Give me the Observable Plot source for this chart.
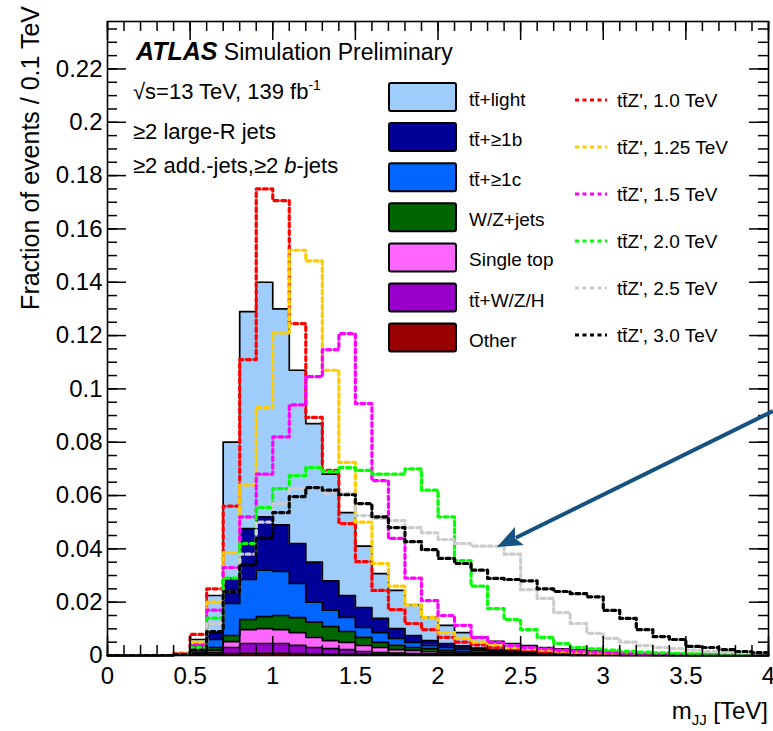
<!DOCTYPE html>
<html>
<head>
<meta charset="utf-8">
<script src="https://cdn.jsdelivr.net/npm/d3@7"></script>
<script src="https://cdn.jsdelivr.net/npm/@observablehq/plot@0.6"></script>
<style>
  html, body { margin: 0; padding: 0; background: #fff; }
  #chart { width: 773px; height: 731px; overflow: hidden; }
</style>
</head>
<body>
<div id="chart"></div>
<script>
// ---------------- DATA ----------------
// lower edges of the 0.1 TeV bins
const binLow = [0.0,0.1,0.2,0.3,0.4,0.5,0.6,0.7,0.8,0.9,1.0,1.1,1.2,1.3,1.4,1.5,1.6,1.7,1.8,1.9,
                2.0,2.1,2.2,2.3,2.4,2.5,2.6,2.7,2.8,2.9,3.0,3.1,3.2,3.3,3.4,3.5,3.6,3.7,3.8,3.9];
const xMax = 4.0;

// background stack, bottom -> top
const other     = [0,0,0,0,0.0001,0.0002,0.0004,0.0007,0.0008,0.0008,0.0008,0.0007,0.0006,0.0005,0.0005,0.0004,0.0003,0.0003,0.0002,0.0002,
                   0.0002,0.0001,0.0001,0.0001,0.0001,0.0001,0.0001,0.0001,0,0,0,0,0,0,0,0,0,0,0,0];
const ttV       = [0,0,0,0,0.0001,0.0003,0.0008,0.0023,0.0037,0.0037,0.0037,0.0031,0.0024,0.0021,0.0017,0.0011,0.0008,0.0006,0.0005,0.0004,
                   0.0003,0.0003,0.0002,0.0002,0.0001,0.0001,0.0001,0.0001,0.0001,0.0001,0.0001,0,0,0,0,0,0,0,0,0];
const singleTop = [0,0,0,0,0.0001,0.0005,0.0008,0.0022,0.0052,0.0056,0.0052,0.0048,0.0038,0.0030,0.0027,0.0023,0.0019,0.0013,0.0012,0.0008,
                   0.0006,0.0005,0.0004,0.0003,0.0003,0.0002,0.0002,0.0001,0.0001,0.0001,0.0001,0.0001,0.0001,0,0,0,0,0,0,0];
const wzJets    = [0,0,0,0,0.0001,0.0004,0.0010,0.0023,0.0038,0.0045,0.0053,0.0056,0.0057,0.0052,0.0041,0.0030,0.0019,0.0016,0.0011,0.0012,
                   0.0008,0.0006,0.0005,0.0004,0.0003,0.0003,0.0002,0.0002,0.0001,0.0001,0.0001,0.0001,0,0.0001,0,0,0,0,0,0];
const tt1c      = [0,0,0,0,0.0001,0.0008,0.0030,0.0120,0.0150,0.0174,0.0165,0.0128,0.0075,0.0062,0.0053,0.0037,0.0037,0.0026,0.0019,0.0012,
                   0.0011,0.0009,0.0007,0.0005,0.0004,0.0003,0.0003,0.0002,0.0002,0.0002,0.0001,0.0001,0.0001,0.0001,0.0001,0,0,0,0,0];
const tt1b      = [0,0,0,0,0.0001,0.0013,0.0026,0.0095,0.0191,0.0200,0.0175,0.0150,0.0150,0.0110,0.0082,0.0075,0.0053,0.0037,0.0026,0.0018,
                   0.0015,0.0012,0.0009,0.0007,0.0006,0.0005,0.0004,0.0003,0.0003,0.0002,0.0002,0.0001,0.0001,0.0001,0.0001,0.0001,0.0001,0,0,0];
const ttLight   = [0,0,0,0.0002,0.0001,0.0025,0.0139,0.0510,0.0814,0.0880,0.0810,0.0650,0.0520,0.0400,0.0311,0.0230,0.0168,0.0143,0.0115,0.0087,
                   0.0068,0.0050,0.0040,0.0031,0.0027,0.0022,0.0017,0.0015,0.0012,0.0010,0.0007,0.0006,0.0006,0.0005,0.0004,0.0004,0.0003,0.0004,0.0003,0.0003];

const layerNames  = ["Other", "tt\u0304+W/Z/H", "Single top", "W/Z+jets", "tt\u0304+\u22651c", "tt\u0304+\u22651b", "tt\u0304+light"];
const layerColors = ["#990000", "#9900cc", "#ff66ff", "#006600", "#0066ff", "#000099", "#9fcdfb"];

// Z' signals
const zp1000 = [0,0,0,0,0.0008,0.0079,0.0250,0.0560,0.1110,0.1750,0.1706,0.1245,0.0893,0.0694,0.0495,0.0352,0.0244,0.0172,0.0120,0.0097,
                0.0068,0.0050,0.0040,0.0030,0.0025,0.0020,0.0015,0.0012,0.0010,0.0008,0.0006,0.0005,0.0004,0.0004,0.0003,0.0003,0.0002,0.0002,0.0002,0.0002];
const zp1250 = [0,0,0,0,0.0005,0.0050,0.0200,0.0386,0.0640,0.0930,0.1210,0.1520,0.1480,0.1070,0.0724,0.0500,0.0345,0.0260,0.0190,0.0143,
                0.0086,0.0065,0.0050,0.0040,0.0030,0.0025,0.0020,0.0016,0.0013,0.0010,0.0008,0.0007,0.0006,0.0005,0.0004,0.0004,0.0003,0.0003,0.0002,0.0002];
const zp1500 = [0,0,0,0,0.0003,0.0040,0.0170,0.0330,0.0520,0.0680,0.0820,0.0940,0.1046,0.1147,0.1207,0.0945,0.0656,0.0439,0.0290,0.0206,
                0.0150,0.0113,0.0068,0.0049,0.0037,0.0030,0.0025,0.0020,0.0016,0.0013,0.0010,0.0008,0.0007,0.0006,0.0005,0.0004,0.0003,0.0003,0.0002,0.0002];
const zp2000 = [0,0,0,0,0.0003,0.0030,0.0140,0.0290,0.0420,0.0555,0.0626,0.0675,0.0705,0.0690,0.0705,0.0694,0.0680,0.0680,0.0700,0.0620,
                0.0520,0.0356,0.0260,0.0176,0.0135,0.0097,0.0068,0.0045,0.0030,0.0025,0.0020,0.0016,0.0013,0.0010,0.0008,0.0006,0.0005,0.0004,0.0003,0.0003];
const zp2500 = [0,0,0,0,0.0002,0.0020,0.0120,0.0240,0.0380,0.0500,0.0570,0.0626,0.0630,0.0610,0.0607,0.0525,0.0514,0.0506,0.0480,0.0460,
                0.0435,0.0420,0.0410,0.0410,0.0380,0.0247,0.0214,0.0161,0.0120,0.0083,0.0064,0.0050,0.0037,0.0030,0.0026,0.0020,0.0015,0.0012,0.0010,0.0008];
const zp3000 = [0,0,0,0,0.0003,0.0020,0.0090,0.0240,0.0340,0.0440,0.0536,0.0596,0.0630,0.0620,0.0603,0.0570,0.0520,0.0480,0.0427,0.0397,
                0.0364,0.0345,0.0320,0.0289,0.0285,0.0280,0.0250,0.0240,0.0232,0.0220,0.0169,0.0139,0.0097,0.0071,0.0060,0.0034,0.0030,0.0022,0.0015,0.0011];

const signalNames  = ["tt\u0304Z', 1.0 TeV", "tt\u0304Z', 1.25 TeV", "tt\u0304Z', 1.5 TeV", "tt\u0304Z', 2.0 TeV", "tt\u0304Z', 2.5 TeV", "tt\u0304Z', 3.0 TeV"];
const signalColors = ["#ff0000", "#ffcc00", "#ff00ff", "#00ff00", "#cccccc", "#000000"];

// axes
const xMajor = [0, 0.5, 1, 1.5, 2, 2.5, 3, 3.5, 4];
const xTickLabels = ["0", "0.5", "1", "1.5", "2", "2.5", "3", "3.5", "4"];
const yMajor = [0, 0.02, 0.04, 0.06, 0.08, 0.1, 0.12, 0.14, 0.16, 0.18, 0.2, 0.22];
const yTickLabels = ["0", "0.02", "0.04", "0.06", "0.08", "0.1", "0.12", "0.14", "0.16", "0.18", "0.2", "0.22"];
const xMinor = d3.range(0, 41).map(i => i / 10);
const yMinor = d3.range(0, 48).map(i => i * 0.005);
const yMax = 0.2378;

// annotation arrow (data coordinates: from, to)
const arrowPoints = [{x: 4.03, y: 0.0915}, {x: 2.36, y: 0.0405}];

// ---------------- BUILD ----------------
const W = 773, H = 731;
const mL = 107, mR = 5, mT = 21, mB = 76;
const innerW = W - mL - mR, innerH = H - mT - mB;
const font = "'Liberation Sans', Arial, Helvetica, sans-serif";

const layerValues = [other, ttV, singleTop, wzJets, tt1c, tt1b, ttLight];
const stackRows = [];
layerNames.forEach((name, k) => {
  const vals = layerValues[k];
  binLow.forEach((x, i) => stackRows.push({layer: name, x, v: vals[i]}));
  stackRows.push({layer: name, x: xMax, v: vals[vals.length - 1]});
});

const signalValues = [zp1000, zp1250, zp1500, zp2000, zp2500, zp3000];
const signalRows = signalNames.map((name, k) => {
  const vals = signalValues[k];
  const rows = binLow.map((x, i) => ({x, v: vals[i]}));
  rows.push({x: xMax, v: vals[vals.length - 1]});
  return rows;
});

const dash = "4,3.5";
const tickStyle = {stroke: "black", strokeWidth: 1.5};

const plot = Plot.plot({
  width: W, height: H,
  marginLeft: mL, marginRight: mR, marginTop: mT, marginBottom: mB,
  style: {fontFamily: font, fontSize: "24px", background: "white", color: "black"},
  x: {domain: [0, 4], label: null},
  y: {domain: [0, yMax], label: null},
  color: {domain: layerNames, range: layerColors},
  marks: [
    Plot.areaY(stackRows, {x: "x", y: "v", z: "layer", fill: "layer", order: layerNames, curve: "step-after"}),
    Plot.lineY(stackRows, Plot.stackY2({x: "x", y: "v", z: "layer", order: layerNames, curve: "step-after",
                                        stroke: "black", strokeWidth: 1.7})),
    ...signalRows.map((rows, k) => Plot.lineY(rows, {x: "x", y: "v", curve: "step-after",
                                     stroke: signalColors[k], strokeWidth: 3.2, strokeDasharray: dash, clip: true})),
    // ROOT style inward ticks on all sides
    Plot.ruleY(yMajor, {y: d => d, insetRight: innerW - 19, ...tickStyle}),
    Plot.ruleY(yMinor, {y: d => d, insetRight: innerW - 10, ...tickStyle}),
    Plot.ruleY(yMajor, {y: d => d, insetLeft: innerW - 19, ...tickStyle}),
    Plot.ruleY(yMinor, {y: d => d, insetLeft: innerW - 10, ...tickStyle}),
    Plot.ruleX(xMajor, {x: d => d, insetTop: innerH - 19, ...tickStyle}),
    Plot.ruleX(xMinor, {x: d => d, insetTop: innerH - 10, ...tickStyle}),
    Plot.ruleX(xMajor, {x: d => d, insetBottom: innerH - 19, ...tickStyle}),
    Plot.ruleX(xMinor, {x: d => d, insetBottom: innerH - 10, ...tickStyle}),
    Plot.frame({stroke: "black", strokeWidth: 1.6}),
    Plot.axisY(yMajor, {anchor: "left", tickSize: 0, tickPadding: 5, fontSize: 24, label: null,
                        tickFormat: d => yTickLabels[yMajor.indexOf(d)]}),
    Plot.axisX(xMajor, {anchor: "bottom", tickSize: 0, tickPadding: 11, fontSize: 24, label: null,
                        tickFormat: d => xTickLabels[xMajor.indexOf(d)]})
  ]
});

document.getElementById("chart").appendChild(plot);

// ---------------- ANNOTATIONS ----------------
const svg = d3.select(plot);
const g = svg.append("g").attr("font-family", font).attr("fill", "black").attr("text-anchor", "start");

// axis titles
g.append("text").attr("transform", "translate(39,6) rotate(-90)")
  .attr("text-anchor", "end").attr("font-size", 25).text("Fraction of events / 0.1 TeV");
const xt = g.append("text").attr("x", 768).attr("y", 719).attr("text-anchor", "end").attr("font-size", 24);
xt.append("tspan").text("m");
xt.append("tspan").attr("font-size", 15).attr("dy", 6).text("JJ");
xt.append("tspan").attr("dy", -6).text(" [TeV]");

// ATLAS label
const at = g.append("text").attr("x", 136).attr("y", 60).attr("font-size", 23);
at.append("tspan").attr("font-weight", "bold").attr("font-style", "italic").attr("font-size", 25).text("ATLAS");
at.append("tspan").text(" Simulation Preliminary");
const l1 = g.append("text").attr("x", 133).attr("y", 99).attr("font-size", 22);
l1.append("tspan").text("\u221As=13 TeV, 139 fb");
l1.append("tspan").attr("font-size", 14).attr("dy", -9).text("-1");
g.append("text").attr("x", 133).attr("y", 139).attr("font-size", 22).text("\u22652 large-R jets");
const l3 = g.append("text").attr("x", 133).attr("y", 173).attr("font-size", 22);
l3.append("tspan").text("\u22652 add.-jets,\u22652 ");
l3.append("tspan").attr("font-style", "italic").text("b");
l3.append("tspan").text("-jets");

// legend: backgrounds
const legendLayers = layerNames.slice().reverse();
const legendFills = layerColors.slice().reverse();
legendLayers.forEach((name, i) => {
  const top = 83 + i * 40.1;
  g.append("rect").attr("x", 389).attr("y", top).attr("width", 67).attr("height", 28)
    .attr("rx", 2).attr("fill", legendFills[i]).attr("stroke", "black").attr("stroke-width", 2);
  g.append("text").attr("x", 469).attr("y", top + 23).attr("font-size", 19).text(name);
});
// legend: signals
signalNames.forEach((name, i) => {
  const yy = 100 + i * 47;
  g.append("line").attr("x1", 575).attr("x2", 607).attr("y1", yy).attr("y2", yy)
    .attr("stroke", signalColors[i]).attr("stroke-width", 3.2).attr("stroke-dasharray", dash);
  g.append("text").attr("x", 617).attr("y", yy + 7).attr("font-size", 19).text(name);
});

// arrow
const sx = plot.scale("x"), sy = plot.scale("y");
const ax0 = sx.apply(arrowPoints[0].x), ay0 = sy.apply(arrowPoints[0].y);
const ax1 = sx.apply(arrowPoints[1].x), ay1 = sy.apply(arrowPoints[1].y);
const ang = Math.atan2(ay1 - ay0, ax1 - ax0);
const hl = 25, hw = 10;
const bx = ax1 - hl * Math.cos(ang), by = ay1 - hl * Math.sin(ang);
const arrowColor = "#15527f";
g.append("line").attr("x1", ax0).attr("y1", ay0).attr("x2", bx + 4 * Math.cos(ang)).attr("y2", by + 4 * Math.sin(ang))
  .attr("stroke", arrowColor).attr("stroke-width", 4);
g.append("polygon").attr("fill", arrowColor)
  .attr("points", [[ax1, ay1], [bx + hw * Math.sin(ang), by - hw * Math.cos(ang)],
                   [bx + 5 * Math.cos(ang), by + 5 * Math.sin(ang)],
                   [bx - hw * Math.sin(ang), by + hw * Math.cos(ang)]].map(p => p.join(",")).join(" "));
</script>
</body>
</html>
